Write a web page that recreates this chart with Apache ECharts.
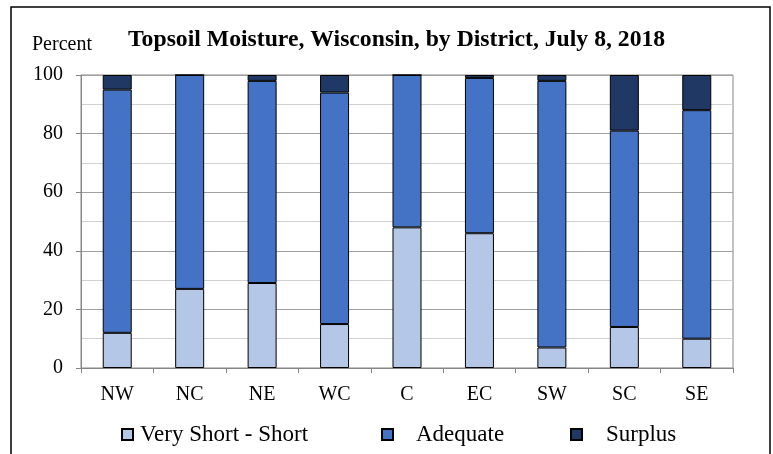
<!DOCTYPE html>
<html>
<head>
<meta charset="utf-8">
<script src="https://cdn.jsdelivr.net/npm/echarts@6/dist/echarts.min.js"></script>
<style>
html,body{margin:0;padding:0;background:#fff;}
#chart{width:773px;height:454px;}
</style>
</head>
<body>
<div id="chart"></div>
<script>
const categories = ['NW','NC','NE','WC','C','EC','SW','SC','SE'];
const veryShortShort = [12, 27, 29, 15, 48, 46, 7, 14, 10];
const adequate = [83, 73, 69, 79, 52, 53, 91, 67, 78];
const surplus = [5, 0, 2, 6, 0, 1, 2, 19, 12];
const yTicks = [0, 20, 40, 60, 80, 100];

const FONT = '"Liberation Serif", "Times New Roman", serif';
const chart = echarts.init(document.getElementById('chart'));

function bar(name, data, color) {
  return {
    name: name,
    type: 'bar',
    stack: 'total',
    data: data,
    barWidth: 29,
    itemStyle: { color: color, borderColor: '#000', borderWidth: 1 },
    emphasis: { disabled: true }
  };
}

function legendItem(name, left, padLeft) {
  return {
    data: [name],
    left: left,
    top: 423,
    padding: 0,
    itemWidth: 11,
    itemHeight: 11,
    icon: 'rect',
    selectedMode: false,
    textStyle: { fontFamily: FONT, fontSize: 23, color: '#000', padding: [0, 0, 0, padLeft] }
  };
}

chart.setOption({
  animation: false,
  backgroundColor: '#fff',
  title: [
    {
      text: 'Topsoil Moisture, Wisconsin, by District, July 8, 2018',
      left: 128, top: 28, padding: 0,
      textStyle: { fontFamily: FONT, fontSize: 23.7, fontWeight: 'bold', color: '#000' }
    },
    {
      text: 'Percent',
      left: 32, top: 35, padding: 0,
      textStyle: { fontFamily: FONT, fontSize: 20, fontWeight: 'normal', color: '#000' }
    }
  ],
  graphic: [{
    type: 'rect',
    shape: { x: 11, y: 7, width: 759, height: 500 },
    style: { fill: 'none', stroke: '#000', lineWidth: 1.5 },
    silent: true
  }],
  legend: [
    legendItem('Very Short - Short', 121, 2),
    legendItem('Adequate', 381, 18),
    legendItem('Surplus', 570, 19)
  ],
  grid: {
    left: 81, right: 40, top: 75, height: 293,
    show: true, borderColor: '#868686', borderWidth: 1, backgroundColor: 'transparent'
  },
  xAxis: {
    type: 'category',
    data: categories,
    boundaryGap: true,
    axisLine: { lineStyle: { color: '#868686', width: 1 } },
    axisTick: { show: true, alignWithLabel: false, length: 5, lineStyle: { color: '#868686' } },
    axisLabel: { fontFamily: FONT, fontSize: 20, color: '#000', margin: 17 }
  },
  yAxis: {
    type: 'value',
    min: yTicks[0],
    max: yTicks[yTicks.length - 1],
    interval: 20,
    axisLine: { show: true, lineStyle: { color: '#868686', width: 1 } },
    axisTick: { show: true, length: 5, lineStyle: { color: '#868686' } },
    axisLabel: { fontFamily: FONT, fontSize: 20, color: '#000', margin: 18 },
    splitLine: { show: true, lineStyle: { color: '#a0a0a0', width: 1 } },
    minorTick: { show: false, splitNumber: 2 },
    minorSplitLine: { show: true, lineStyle: { color: '#d0d0d0', width: 1 } }
  },
  series: [
    bar('Very Short - Short', veryShortShort, '#B4C7E7'),
    bar('Adequate', adequate, '#4472C4'),
    bar('Surplus', surplus, '#203864')
  ]
});
</script>
</body>
</html>
